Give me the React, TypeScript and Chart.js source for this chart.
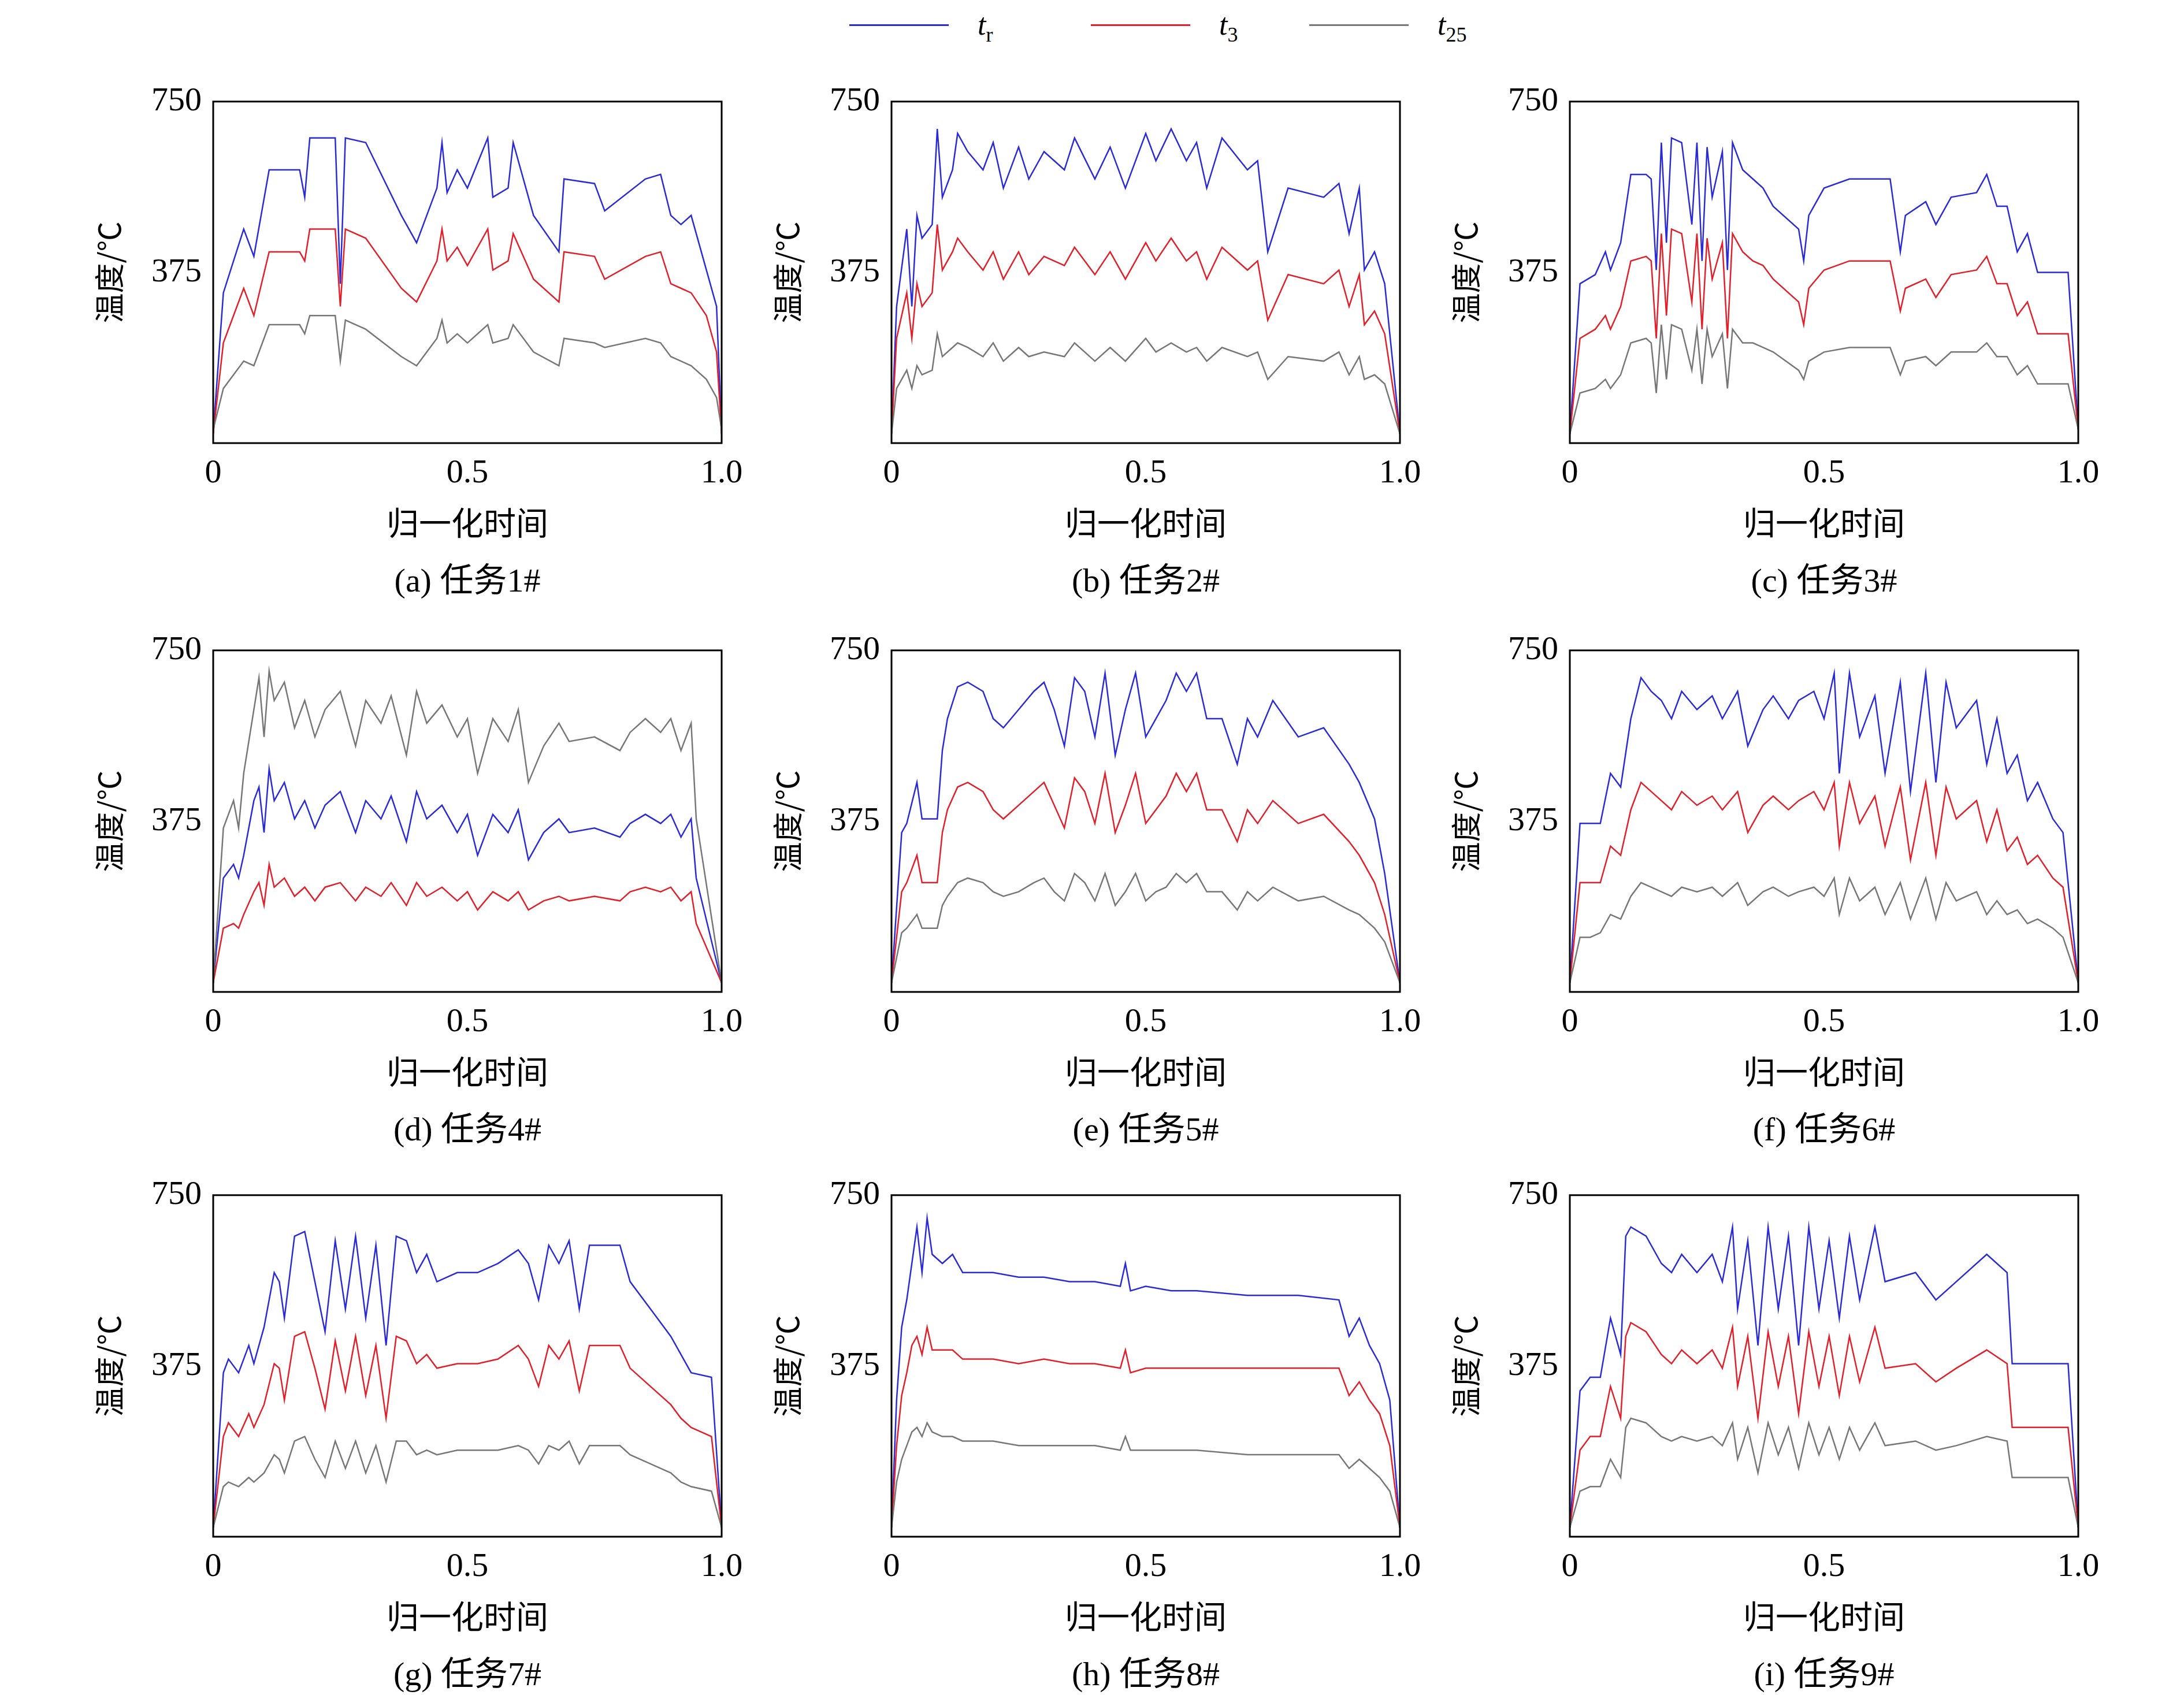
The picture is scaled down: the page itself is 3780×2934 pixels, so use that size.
import React, { useEffect, useRef } from 'react';
import Chart from 'chart.js/auto';

type Pt = [number, number];

// panel (a)
const trA: Pt[] = [[0,20],[.02,330],[.04,400],[.06,470],[.08,410],[.11,600],[.17,600],[.18,540],[.19,670],[.24,670],[.25,350],[.26,670],[.3,660],[.37,500],[.4,440],[.44,560],[.45,660],[.46,550],[.48,600],[.5,560],[.54,670],[.55,540],[.58,560],[.59,660],[.63,500],[.68,420],[.69,580],[.75,570],[.77,510],[.85,580],[.88,590],[.9,500],[.92,480],[.94,500],[.97,380],[.99,300],[1,20]];
const t3A: Pt[] = [[0,20],[.02,220],[.04,280],[.06,340],[.08,280],[.11,420],[.17,420],[.18,400],[.19,470],[.24,470],[.25,300],[.26,470],[.3,450],[.37,340],[.4,310],[.44,400],[.45,470],[.46,400],[.48,430],[.5,390],[.54,470],[.55,380],[.58,400],[.59,460],[.63,360],[.68,310],[.69,420],[.75,410],[.77,360],[.85,410],[.88,420],[.9,350],[.92,340],[.94,330],[.97,280],[.99,200],[1,20]];
const t25A: Pt[] = [[0,30],[.02,120],[.04,150],[.06,180],[.08,170],[.11,260],[.17,260],[.18,240],[.19,280],[.24,280],[.25,180],[.26,270],[.3,250],[.37,190],[.4,170],[.44,230],[.45,270],[.46,220],[.48,240],[.5,220],[.54,260],[.55,220],[.58,230],[.59,260],[.63,200],[.68,170],[.69,230],[.75,220],[.77,210],[.85,230],[.88,220],[.9,190],[.92,180],[.94,170],[.97,140],[.99,100],[1,30]];

// panel (b)
const trB: Pt[] = [[0,20],[.01,300],[.03,470],[.04,300],[.05,500],[.06,450],[.08,480],[.09,690],[.1,540],[.12,600],[.13,680],[.15,640],[.18,600],[.2,660],[.22,560],[.25,650],[.27,580],[.3,640],[.34,600],[.36,670],[.4,580],[.43,650],[.46,560],[.5,680],[.52,620],[.55,690],[.58,620],[.6,660],[.62,560],[.65,670],[.7,600],[.72,620],[.74,420],[.78,560],[.85,540],[.88,570],[.9,460],[.92,560],[.93,380],[.95,420],[.97,350],[1,20]];
const t3B: Pt[] = [[0,20],[.01,230],[.03,330],[.04,230],[.05,350],[.06,300],[.08,330],[.09,480],[.1,380],[.12,420],[.13,450],[.15,420],[.18,380],[.2,420],[.22,360],[.25,420],[.27,370],[.3,410],[.34,390],[.36,430],[.4,370],[.43,420],[.46,360],[.5,440],[.52,400],[.55,450],[.58,400],[.6,420],[.62,360],[.65,430],[.7,380],[.72,400],[.74,270],[.78,370],[.85,350],[.88,380],[.9,300],[.92,370],[.93,260],[.95,290],[.97,240],[1,20]];
const t25B: Pt[] = [[0,20],[.01,120],[.03,160],[.04,120],[.05,170],[.06,150],[.08,160],[.09,240],[.1,190],[.12,210],[.13,220],[.15,210],[.18,190],[.2,220],[.22,180],[.25,210],[.27,190],[.3,200],[.34,190],[.36,220],[.4,180],[.43,210],[.46,180],[.5,230],[.52,200],[.55,220],[.58,200],[.6,210],[.62,180],[.65,210],[.7,190],[.72,200],[.74,140],[.78,190],[.85,180],[.88,200],[.9,150],[.92,190],[.93,140],[.95,150],[.97,130],[1,20]];

// panel (c)
const trC: Pt[] = [[0,20],[.02,350],[.05,370],[.07,420],[.08,380],[.1,440],[.12,590],[.15,590],[.16,580],[.17,380],[.18,660],[.19,440],[.2,670],[.22,660],[.24,480],[.25,660],[.26,400],[.27,650],[.28,540],[.3,640],[.31,380],[.32,660],[.34,600],[.36,580],[.38,560],[.4,520],[.45,470],[.46,400],[.47,500],[.5,560],[.55,580],[.6,580],[.63,580],[.65,420],[.66,500],[.7,530],[.72,480],[.75,540],[.8,550],[.82,590],[.84,520],[.86,520],[.88,420],[.9,460],[.92,375],[.98,375],[1,30]];
const t3C: Pt[] = [[0,20],[.02,230],[.05,250],[.07,280],[.08,250],[.1,300],[.12,400],[.15,410],[.16,400],[.17,230],[.18,460],[.19,280],[.2,470],[.22,460],[.24,310],[.25,460],[.26,250],[.27,450],[.28,360],[.3,440],[.31,230],[.32,460],[.34,420],[.36,400],[.38,390],[.4,360],[.45,310],[.46,260],[.47,340],[.5,380],[.55,400],[.6,400],[.63,400],[.65,290],[.66,340],[.7,360],[.72,320],[.75,370],[.8,380],[.82,410],[.84,350],[.86,350],[.88,280],[.9,310],[.92,240],[.98,240],[1,30]];
const t25C: Pt[] = [[0,20],[.02,110],[.05,120],[.07,140],[.08,120],[.1,150],[.12,220],[.15,230],[.16,220],[.17,110],[.18,260],[.19,140],[.2,260],[.22,250],[.24,160],[.25,250],[.26,130],[.27,250],[.28,190],[.3,240],[.31,120],[.32,250],[.34,220],[.36,220],[.38,210],[.4,200],[.45,160],[.46,140],[.47,180],[.5,200],[.55,210],[.6,210],[.63,210],[.65,150],[.66,180],[.7,190],[.72,170],[.75,200],[.8,200],[.82,220],[.84,190],[.86,190],[.88,150],[.9,170],[.92,130],[.98,130],[1,30]];

// panel (d)
const trD: Pt[] = [[0,20],[.02,250],[.04,280],[.05,250],[.06,300],[.08,420],[.09,450],[.1,350],[.11,490],[.12,420],[.14,460],[.16,380],[.18,420],[.2,360],[.22,410],[.25,440],[.28,350],[.3,420],[.33,380],[.35,430],[.38,330],[.4,440],[.42,380],[.45,410],[.48,350],[.5,390],[.52,300],[.55,390],[.58,350],[.6,400],[.62,290],[.65,350],[.68,380],[.7,350],[.75,360],[.8,340],[.82,370],[.85,390],[.88,370],[.9,390],[.92,340],[.94,380],[.95,250],[1,20]];
const t3D: Pt[] = [[0,20],[.02,140],[.04,150],[.05,140],[.06,170],[.08,220],[.09,240],[.1,190],[.11,280],[.12,230],[.14,250],[.16,210],[.18,230],[.2,200],[.22,230],[.25,240],[.28,200],[.3,230],[.33,210],[.35,240],[.38,190],[.4,240],[.42,210],[.45,230],[.48,200],[.5,220],[.52,180],[.55,220],[.58,200],[.6,220],[.62,180],[.65,200],[.68,210],[.7,200],[.75,210],[.8,200],[.82,220],[.85,230],[.88,220],[.9,230],[.92,200],[.94,220],[.95,150],[1,20]];
const t25D: Pt[] = [[0,20],[.02,360],[.04,420],[.05,360],[.06,480],[.08,620],[.09,690],[.1,560],[.11,705],[.12,640],[.14,680],[.16,580],[.18,640],[.2,560],[.22,620],[.25,660],[.28,540],[.3,640],[.33,590],[.35,650],[.38,520],[.4,660],[.42,590],[.45,630],[.48,560],[.5,600],[.52,480],[.55,600],[.58,550],[.6,620],[.62,460],[.65,540],[.68,590],[.7,550],[.75,560],[.8,530],[.82,570],[.85,600],[.88,570],[.9,600],[.92,530],[.94,590],[.95,380],[1,20]];

// panel (e)
const trE: Pt[] = [[0,20],[.02,350],[.03,370],[.05,460],[.06,380],[.09,380],[.1,530],[.11,600],[.13,670],[.15,680],[.18,660],[.2,600],[.22,580],[.25,620],[.28,660],[.3,680],[.32,620],[.34,540],[.36,690],[.38,660],[.4,560],[.42,700],[.44,520],[.46,620],[.48,700],[.5,560],[.52,600],[.54,640],[.56,700],[.58,660],[.6,700],[.62,600],[.65,600],[.68,500],[.7,600],[.72,560],[.75,640],[.8,560],[.85,580],[.9,500],[.92,460],[.95,380],[.97,260],[1,20]];
const t3E: Pt[] = [[0,20],[.02,220],[.03,240],[.05,300],[.06,240],[.09,240],[.1,350],[.11,400],[.13,450],[.15,460],[.18,440],[.2,400],[.22,380],[.25,410],[.28,440],[.3,460],[.32,410],[.34,360],[.36,470],[.38,440],[.4,370],[.42,480],[.44,350],[.46,410],[.48,480],[.5,370],[.52,400],[.54,430],[.56,480],[.58,440],[.6,480],[.62,400],[.65,400],[.68,330],[.7,400],[.72,370],[.75,420],[.8,370],[.85,390],[.9,330],[.92,300],[.95,240],[.97,170],[1,20]];
const t25E: Pt[] = [[0,20],[.02,130],[.03,140],[.05,170],[.06,140],[.09,140],[.1,190],[.11,210],[.13,240],[.15,250],[.18,240],[.2,220],[.22,210],[.25,220],[.28,240],[.3,250],[.32,220],[.34,200],[.36,260],[.38,240],[.4,200],[.42,260],[.44,190],[.46,220],[.48,260],[.5,200],[.52,220],[.54,230],[.56,260],[.58,240],[.6,260],[.62,220],[.65,220],[.68,180],[.7,220],[.72,200],[.75,230],[.8,200],[.85,210],[.9,180],[.92,170],[.95,140],[.97,110],[1,20]];

// panel (f)
const trF: Pt[] = [[0,20],[.02,370],[.04,370],[.06,370],[.08,480],[.1,450],[.12,600],[.14,690],[.16,660],[.18,640],[.2,600],[.22,660],[.25,620],[.28,650],[.3,600],[.33,660],[.35,540],[.38,620],[.4,650],[.43,600],[.45,640],[.48,660],[.5,600],[.52,700],[.53,480],[.55,700],[.57,560],[.6,650],[.62,480],[.65,680],[.67,440],[.7,700],[.72,460],[.74,680],[.76,580],[.8,640],[.82,500],[.84,600],[.86,480],[.88,520],[.9,420],[.92,460],[.95,380],[.97,350],[1,20]];
const t3F: Pt[] = [[0,20],[.02,240],[.04,240],[.06,240],[.08,320],[.1,300],[.12,400],[.14,460],[.16,440],[.18,420],[.2,400],[.22,440],[.25,410],[.28,430],[.3,400],[.33,440],[.35,350],[.38,410],[.4,430],[.43,400],[.45,420],[.48,440],[.5,400],[.52,460],[.53,320],[.55,460],[.57,370],[.6,430],[.62,320],[.65,450],[.67,290],[.7,460],[.72,300],[.74,450],[.76,380],[.8,420],[.82,330],[.84,400],[.86,310],[.88,340],[.9,280],[.92,300],[.95,250],[.97,230],[1,20]];
const t25F: Pt[] = [[0,20],[.02,120],[.04,120],[.06,130],[.08,170],[.1,160],[.12,210],[.14,240],[.16,230],[.18,220],[.2,210],[.22,230],[.25,220],[.28,230],[.3,210],[.33,240],[.35,190],[.38,220],[.4,230],[.43,210],[.45,220],[.48,230],[.5,210],[.52,250],[.53,170],[.55,250],[.57,200],[.6,230],[.62,170],[.65,240],[.67,160],[.7,250],[.72,160],[.74,240],[.76,200],[.8,220],[.82,170],[.84,200],[.86,170],[.88,180],[.9,150],[.92,160],[.95,140],[.97,120],[1,20]];

// panel (g)
const trG: Pt[] = [[0,20],[.02,360],[.03,390],[.05,360],[.07,420],[.08,380],[.1,460],[.12,580],[.13,560],[.14,480],[.16,660],[.18,670],[.2,560],[.22,450],[.24,650],[.26,500],[.28,660],[.3,480],[.32,640],[.34,420],[.36,660],[.38,650],[.4,580],[.42,620],[.44,560],[.48,580],[.52,580],[.56,600],[.6,630],[.62,600],[.64,520],[.66,640],[.68,600],[.7,650],[.72,500],[.74,640],[.76,640],[.8,640],[.82,560],[.86,500],[.9,440],[.92,400],[.94,360],[.98,350],[1,20]];
const t3G: Pt[] = [[0,20],[.02,220],[.03,250],[.05,220],[.07,270],[.08,240],[.1,290],[.12,380],[.13,370],[.14,300],[.16,440],[.18,450],[.2,370],[.22,280],[.24,430],[.26,320],[.28,440],[.3,310],[.32,420],[.34,260],[.36,440],[.38,430],[.4,380],[.42,400],[.44,370],[.48,380],[.52,380],[.56,390],[.6,420],[.62,390],[.64,330],[.66,420],[.68,390],[.7,430],[.72,320],[.74,420],[.76,420],[.8,420],[.82,370],[.86,330],[.9,290],[.92,260],[.94,240],[.98,220],[1,20]];
const t25G: Pt[] = [[0,20],[.02,110],[.03,120],[.05,110],[.07,130],[.08,120],[.1,140],[.12,180],[.13,170],[.14,140],[.16,210],[.18,220],[.2,170],[.22,130],[.24,210],[.26,150],[.28,210],[.3,140],[.32,200],[.34,120],[.36,210],[.38,210],[.4,180],[.42,190],[.44,180],[.48,190],[.52,190],[.56,190],[.6,200],[.62,190],[.64,160],[.66,200],[.68,190],[.7,210],[.72,160],[.74,200],[.76,200],[.8,200],[.82,180],[.86,160],[.9,140],[.92,120],[.94,110],[.98,100],[1,20]];

// panel (h)
const trH: Pt[] = [[0,20],[.01,300],[.02,460],[.03,520],[.04,600],[.05,680],[.06,580],[.07,700],[.08,620],[.1,600],[.12,620],[.14,580],[.2,580],[.25,570],[.3,570],[.35,560],[.4,560],[.45,550],[.46,600],[.47,540],[.5,550],[.55,540],[.6,540],[.7,530],[.8,530],[.88,520],[.9,440],[.92,480],[.94,420],[.96,380],[.98,300],[1,20]];
const t3H: Pt[] = [[0,20],[.01,200],[.02,310],[.03,360],[.04,420],[.05,440],[.06,400],[.07,460],[.08,410],[.1,410],[.12,410],[.14,390],[.2,390],[.25,380],[.3,390],[.35,380],[.4,380],[.45,370],[.46,410],[.47,360],[.5,370],[.55,370],[.6,370],[.7,370],[.8,370],[.88,370],[.9,310],[.92,340],[.94,300],[.96,270],[.98,200],[1,20]];
const t25H: Pt[] = [[0,20],[.01,120],[.02,170],[.03,200],[.04,230],[.05,240],[.06,220],[.07,250],[.08,230],[.1,220],[.12,220],[.14,210],[.2,210],[.25,200],[.3,200],[.35,200],[.4,200],[.45,190],[.46,220],[.47,190],[.5,190],[.55,190],[.6,190],[.7,180],[.8,180],[.88,180],[.9,150],[.92,170],[.94,150],[.96,130],[.98,100],[1,20]];

// panel (i)
const trI: Pt[] = [[0,20],[.02,320],[.04,350],[.06,350],[.08,480],[.1,400],[.11,660],[.12,680],[.15,660],[.18,600],[.2,580],[.22,620],[.25,580],[.28,620],[.3,560],[.32,680],[.33,500],[.35,650],[.37,420],[.39,680],[.41,500],[.43,660],[.45,420],[.47,680],[.49,500],[.51,650],[.53,480],[.55,660],[.57,520],[.6,680],[.62,560],[.68,580],[.72,520],[.76,560],[.82,620],[.86,580],[.87,380],[.98,380],[1,20]];
const t3I: Pt[] = [[0,20],[.02,190],[.04,220],[.06,220],[.08,330],[.1,260],[.11,440],[.12,470],[.15,450],[.18,400],[.2,380],[.22,410],[.25,380],[.28,410],[.3,370],[.32,460],[.33,330],[.35,440],[.37,260],[.39,450],[.41,330],[.43,440],[.45,270],[.47,450],[.49,330],[.51,440],[.53,310],[.55,440],[.57,340],[.6,460],[.62,370],[.68,380],[.72,340],[.76,370],[.82,410],[.86,380],[.87,240],[.98,240],[1,20]];
const t25I: Pt[] = [[0,20],[.02,100],[.04,110],[.06,110],[.08,170],[.1,130],[.11,240],[.12,260],[.15,250],[.18,220],[.2,210],[.22,220],[.25,210],[.28,220],[.3,200],[.32,250],[.33,170],[.35,240],[.37,140],[.39,250],[.41,180],[.43,240],[.45,150],[.47,250],[.49,180],[.51,240],[.53,170],[.55,240],[.57,190],[.6,250],[.62,200],[.68,210],[.72,190],[.76,200],[.82,220],[.86,210],[.87,130],[.98,130],[1,20]];

const captions = ['(a) 任务1#', '(b) 任务2#', '(c) 任务3#', '(d) 任务4#', '(e) 任务5#', '(f) 任务6#', '(g) 任务7#', '(h) 任务8#', '(i) 任务9#'];
const panels: Pt[][][] = [
  [trA, t3A, t25A], [trB, t3B, t25B], [trC, t3C, t25C],
  [trD, t3D, t25D], [trE, t3E, t25E], [trF, t3F, t25F],
  [trG, t3G, t25G], [trH, t3H, t25H], [trI, t3I, t25I],
];

const BLUE = '#2b2bd6';
const RED = '#e0202a';
const GRAY = '#777777';
const SERIF = '"Liberation Serif", "Noto Sans CJK SC", serif';
const CJK = '"Noto Sans CJK SC", "Liberation Serif", sans-serif';

const colLeft = [369, 1543, 2717];
const rowTop = [169, 1119, 2062];
const PW = 880;
const PH = 598;
const YW = 215;
const PADT = 40;
const PADR = 50;
const XH = 175;

const boxPlugin = {
  id: 'box',
  afterDraw(chart: any) {
    const { ctx, chartArea: a } = chart;
    ctx.save();
    ctx.strokeStyle = '#000';
    ctx.lineWidth = 3;
    ctx.strokeRect(a.left, a.top, a.right - a.left, a.bottom - a.top);
    ctx.restore();
  },
};

function Panel({ idx }: { idx: number }) {
  const ref = useRef<HTMLCanvasElement>(null);
  useEffect(() => {
    if (!ref.current) return;
    const [tr, t3, t25] = panels[idx];
    const mk = (d: Pt[], c: string) => ({
      data: d.map(([x, y]) => ({ x, y })),
      borderColor: c,
      borderWidth: 2.5,
      pointRadius: 0,
      tension: 0,
      fill: false,
    });
    const chart = new Chart(ref.current, {
      type: 'line',
      data: { datasets: [mk(t25, GRAY), mk(t3, RED), mk(tr, BLUE)] },
      options: {
        animation: false,
        responsive: false,
        layout: { padding: { top: PADT, right: PADR, left: 0, bottom: 0 } },
        plugins: { legend: { display: false }, tooltip: { enabled: false } },
        scales: {
          x: {
            type: 'linear', min: 0, max: 1,
            grid: { display: false },
            border: { display: false },
            ticks: {
              stepSize: 0.5, color: '#000', padding: 10,
              font: { family: SERIF, size: 58 },
              callback: (v: any) => (v === 0 ? '0' : v === 1 ? '1.0' : String(v)),
            },
            title: { display: true, text: '归一化时间', color: '#000', font: { family: CJK, size: 56 }, padding: { top: 8 } },
            afterFit: (s: any) => { s.height = XH; },
          },
          y: {
            min: 0, max: 750,
            grid: { display: false },
            border: { display: false },
            ticks: {
              stepSize: 375, color: '#000', padding: 12,
              font: { family: SERIF, size: 58 },
              callback: (v: any) => (v === 0 ? '' : String(v)),
            },
            title: { display: true, text: '温度/℃', color: '#000', font: { family: CJK, size: 52 }, padding: { bottom: 14 } },
            afterFit: (s: any) => { s.width = YW; },
          },
        },
      },
      plugins: [boxPlugin],
    });
    return () => chart.destroy();
  }, [idx]);
  const c = idx % 3;
  const r = Math.floor(idx / 3);
  const left = colLeft[c] - YW;
  const top = rowTop[r] - PADT;
  return (
    <>
      <canvas ref={ref} width={YW + PW + PADR} height={PADT + PH + XH}
        style={{ position: 'absolute', left, top, width: YW + PW + PADR, height: PADT + PH + XH }} />
      <div style={{ position: 'absolute', left: colLeft[c], width: PW, top: rowTop[r] + PH + 190, textAlign: 'center', fontFamily: SERIF, fontSize: 58, color: '#000' }}>
        {captions[idx]}
      </div>
    </>
  );
}

function LegendItem({ x, color, main, sub }: { x: number; color: string; main: string; sub: string }) {
  return (
    <div style={{ position: 'absolute', left: x, top: 8, height: 70, fontFamily: SERIF, fontSize: 52 }}>
      <div style={{ position: 'absolute', left: 0, top: 34, width: 172, height: 3, background: color }} />
      <div style={{ position: 'absolute', left: 222, top: 0, whiteSpace: 'nowrap', lineHeight: '70px' }}>
        <span style={{ fontStyle: 'italic' }}>{main}</span>
        <span style={{ fontSize: 36, position: 'relative', top: 12 }}>{sub}</span>
      </div>
    </div>
  );
}

export default function App() {
  useEffect(() => { document.body.style.margin = '0'; }, []);
  return (
    <div style={{ position: 'relative', width: 3780, height: 2934, background: '#fff', overflow: 'hidden' }}>
      <LegendItem x={1470} color={BLUE} main="t" sub="r" />
      <LegendItem x={1888} color={RED} main="t" sub="3" />
      <LegendItem x={2266} color={GRAY} main="t" sub="25" />
      {panels.map((_, i) => <Panel key={i} idx={i} />)}
    </div>
  );
}
